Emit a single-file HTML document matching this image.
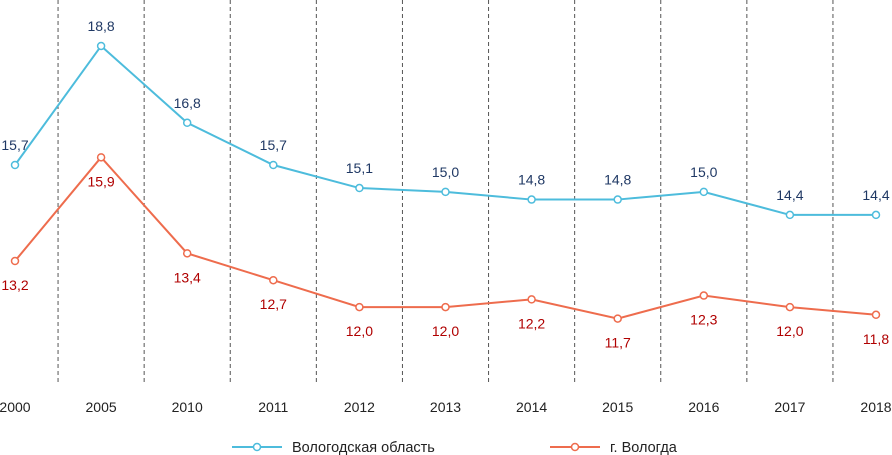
<!DOCTYPE html>
<html><head><meta charset="utf-8"><style>
body{margin:0;background:#fff;}
svg{display:block;font-family:"Liberation Sans","DejaVu Sans",sans-serif;}
</style></head><body>
<svg id="c" width="892" height="455"></svg>
<script>
const years=["2000","2005","2010","2011","2012","2013","2014","2015","2016","2017","2018"];
const oblast=[15.7,18.8,16.8,15.7,15.1,15.0,14.8,14.8,15.0,14.4,14.4];
const city=[13.2,15.9,13.4,12.7,12.0,12.0,12.2,11.7,12.3,12.0,11.8];
const svg=document.getElementById('c');
const NS='http://www.w3.org/2000/svg';
function x(i){return 15+i*86.1;}
function y(v){return 165-(v-15.7)*38.4;}
function mk(t,a,p){const e=document.createElementNS(NS,t);for(const k in a)e.setAttribute(k,a[k]);(p||svg).appendChild(e);return e;}
for(let i=0;i<years.length-1;i++){
  const l=mk('line',{x1:x(i+0.5),x2:x(i+0.5),y1:0,y2:384,stroke:'#555','stroke-width':1,'stroke-dasharray':'4,3'});
  
  
}
years.forEach((t,i)=>{
  const e=mk('text',{x:x(i),y:412,'text-anchor':'middle','font-size':14,fill:'#222'});
  e.textContent=t;
  
  
});
function series(vals,color,lc,above,name){
  const g=mk('g',{});
  
  
  mk('polyline',{points:vals.map((v,i)=>x(i)+','+y(v)).join(' '),fill:'none',stroke:color,'stroke-width':2},g);
  vals.forEach((v,i)=>{
    const c=mk('circle',{cx:x(i),cy:y(v),r:3.5,fill:'#fff',stroke:color,'stroke-width':1.5},g);
    
    
    const t=mk('text',{x:x(i),y:above?y(v)-15:y(v)+29,'text-anchor':'middle','font-size':14,fill:lc},g);
    t.textContent=v.toFixed(1).replace('.',',');
    
    
  });
}
series(oblast,'#4dbcdc','#1f3864',true,'series-oblast');
series(city,'#ee6c4d','#b00000',false,'series-city');
function legend(x0,color,label,name){
  const g=mk('g',{});
  
  
  mk('line',{x1:x0,x2:x0+50,y1:447,y2:447,stroke:color,'stroke-width':2},g);
  mk('circle',{cx:x0+25,cy:447,r:3.5,fill:'#fff',stroke:color,'stroke-width':1.5},g);
  const t=mk('text',{x:x0+60,y:452,'font-size':14.5,fill:'#222'},g);
  t.textContent=label;
}
legend(232,'#4dbcdc','Вологодская область','legend-oblast');
legend(550,'#ee6c4d','г. Вологда','legend-city');
</script>
</body></html>
